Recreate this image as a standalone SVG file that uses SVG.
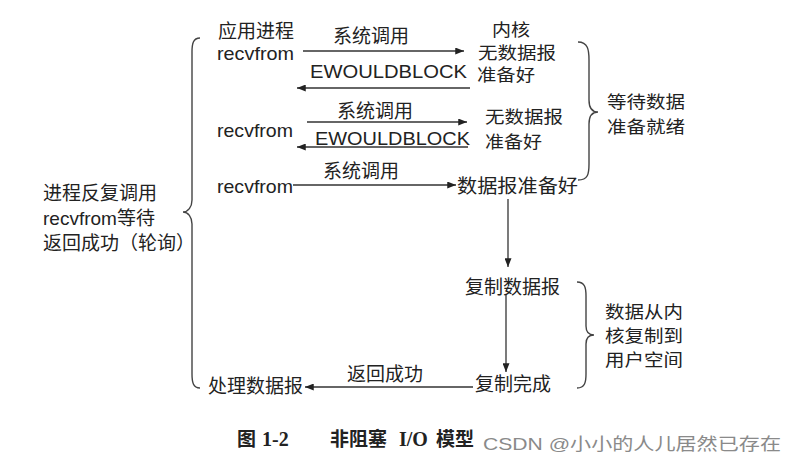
<svg xmlns="http://www.w3.org/2000/svg" width="797" height="465" viewBox="0 0 797 465">
<style>
.t{font-family:"Noto Sans CJK SC","Liberation Sans",sans-serif;font-size:19px;fill:#222}
.s{font-family:"Noto Sans CJK SC","Liberation Sans",sans-serif;font-size:17.5px;fill:#222}
.k{font-family:"Noto Sans CJK SC","Liberation Sans",sans-serif;font-size:16.5px;fill:#222}
.l{font-family:"Liberation Sans","Noto Sans CJK SC",sans-serif;font-size:19px;fill:#222}
.ln{stroke:#333;stroke-width:1.3;fill:none}
.br{stroke:#444;stroke-width:1.4;fill:none}
.cap{font-family:"Noto Sans CJK SC",sans-serif;font-size:19px;font-weight:bold;fill:#222}
.capl{font-family:"Liberation Serif",serif;font-size:20px;font-weight:bold;fill:#222}
.wm{font-family:"Liberation Sans","Noto Sans CJK SC",sans-serif;font-size:17px;fill:#8a8a8a}
</style>
<defs>
<marker id="ah" viewBox="0 0 10 8" refX="10" refY="4" markerWidth="9" markerHeight="7" markerUnits="userSpaceOnUse" orient="auto">
<path d="M0,0 L10,4 L0,8 z" fill="#222"/>
</marker>
</defs>
<rect width="797" height="465" fill="#fff"/>
<g id="connectors">
<line class="ln" x1="303" y1="51" x2="464" y2="51" marker-end="url(#ah)"/>
<line class="ln" x1="470" y1="88" x2="297" y2="88" marker-end="url(#ah)"/>
<line class="ln" x1="307" y1="122" x2="467" y2="122" marker-end="url(#ah)"/>
<line class="ln" x1="468" y1="147" x2="297" y2="147" marker-end="url(#ah)"/>
<line class="ln" x1="293" y1="185" x2="456" y2="185" marker-end="url(#ah)"/>
<line class="ln" x1="508" y1="199" x2="508" y2="267" marker-end="url(#ah)"/>
<line class="ln" x1="506" y1="294" x2="506" y2="372" marker-end="url(#ah)"/>
<line class="ln" x1="473" y1="387" x2="305" y2="387" marker-end="url(#ah)"/>
</g>
<g id="braces">
<path class="br" d="M200,38 C193,38 192,44 192,52 L192,200 C192,207 188,212 183,212 C188,212 192,217 192,224 L192,374 C192,382 193,388 200,388"/>
<path class="br" d="M578,42 C588,42 589,50 589,60 L589,100 C589,108 592,112 598,112 C592,112 589,116 589,124 L589,164 C589,174 588,180 578,180"/>
<path class="br" d="M577,282 C585,282 586,288 586,296 L586,326 C586,332 589,335 594,335 C589,335 586,338 586,344 L586,374 C586,382 585,388 577,388"/>
</g>
<g id="app">
<text class="t" x="218" y="38">应用进程</text>
<text class="l" x="217" y="60" textLength="77" lengthAdjust="spacingAndGlyphs">recvfrom</text>
<text class="l" x="217" y="137" textLength="76" lengthAdjust="spacingAndGlyphs">recvfrom</text>
<text class="l" x="217" y="193" textLength="76" lengthAdjust="spacingAndGlyphs">recvfrom</text>
<text class="t" x="208" y="393">处理数据报</text>
</g>
<g id="labels">
<text class="t" x="333" y="43">系统调用</text>
<text class="l" x="310" y="78" textLength="157" lengthAdjust="spacingAndGlyphs">EWOULDBLOCK</text>
<text class="t" x="337" y="118">系统调用</text>
<text class="l" x="315" y="145" textLength="155" lengthAdjust="spacingAndGlyphs">EWOULDBLOCK</text>
<text class="t" x="323" y="178">系统调用</text>
<text class="t" x="347" y="381">返回成功</text>
</g>
<g id="kernel">
<text class="k" x="492" y="36" textLength="38" lengthAdjust="spacingAndGlyphs">内核</text>
<text class="k" x="478" y="59" textLength="78" lengthAdjust="spacingAndGlyphs">无数据报</text>
<text class="k" x="477" y="81" textLength="58" lengthAdjust="spacingAndGlyphs">准备好</text>
<text class="s" x="485" y="123" textLength="78" lengthAdjust="spacingAndGlyphs">无数据报</text>
<text class="s" x="485" y="148" textLength="57" lengthAdjust="spacingAndGlyphs">准备好</text>
<text class="t" x="457" y="193" textLength="121" lengthAdjust="spacingAndGlyphs">数据报准备好</text>
<text class="t" x="465" y="294">复制数据报</text>
<text class="t" x="475" y="391">复制完成</text>
</g>
<g id="notes">
<text class="s" x="607" y="108" textLength="78" lengthAdjust="spacingAndGlyphs">等待数据</text>
<text class="s" x="607" y="133" textLength="78" lengthAdjust="spacingAndGlyphs">准备就绪</text>
<text class="s" x="605" y="318" textLength="78" lengthAdjust="spacingAndGlyphs">数据从内</text>
<text class="s" x="605" y="342" textLength="78" lengthAdjust="spacingAndGlyphs">核复制到</text>
<text class="s" x="605" y="366" textLength="78" lengthAdjust="spacingAndGlyphs">用户空间</text>
<text class="t" x="43" y="200">进程反复调用</text>
<text class="t" x="43" y="225"><tspan class="l">recvfrom</tspan>等待</text>
<text class="t" x="43" y="250">返回成功（轮询）</text>
</g>
<g id="caption">
<text class="cap" x="237" y="446">图</text>
<text class="capl" x="262" y="446">1-2</text>
<text class="cap" x="330" y="446">非阻塞</text>
<text class="capl" x="399" y="446">I/O</text>
<text class="cap" x="436" y="446">模型</text>
<text class="wm" x="483" y="450" textLength="298" lengthAdjust="spacingAndGlyphs">CSDN @小小的人儿居然已存在</text>
</g>
</svg>
